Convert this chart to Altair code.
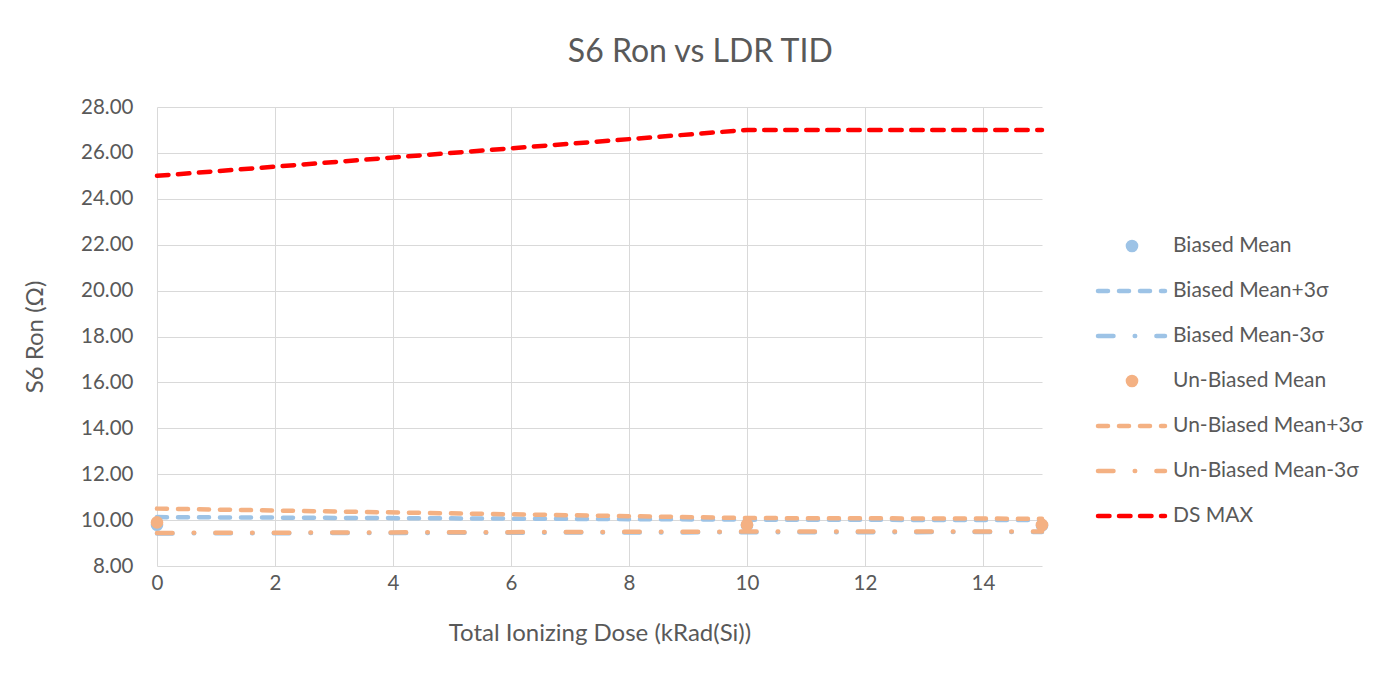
import altair as alt
import pandas as pd

# ---- data ----
tid = [0, 10, 15]
series_names = [
    "Biased Mean",
    "Biased Mean+3σ",
    "Biased Mean-3σ",
    "Un-Biased Mean",
    "Un-Biased Mean+3σ",
    "Un-Biased Mean-3σ",
    "DS MAX",
]
biased_mean = [9.80, 9.78, 9.77]
biased_p3 = [10.13, 10.02, 10.00]
biased_m3 = [9.42, 9.47, 9.48]
unbiased_mean = [9.90, 9.80, 9.79]
unbiased_p3 = [10.50, 10.09, 10.06]
unbiased_m3 = [9.44, 9.50, 9.50]
ds_max = [25.0, 27.0, 27.0]

values = [biased_mean, biased_p3, biased_m3, unbiased_mean, unbiased_p3, unbiased_m3, ds_max]

BLUE = "#9DC3E6"
ORANGE = "#F4B183"
RED = "#FF0000"
colors = [BLUE, BLUE, BLUE, ORANGE, ORANGE, ORANGE, RED]
DASH_P = [10, 11]
DASH_M = [15.5, 21.2, 0.5, 21.2]
DASH_R = [11.5, 9.5]
dashes = [[1, 0], DASH_P, DASH_M, [1, 0], DASH_P, DASH_M, DASH_R]
is_point = [True, False, False, True, False, False, False]

rows = []
for name, vals in zip(series_names, values):
    for t, v in zip(tid, vals):
        rows.append({"series": name, "tid": t, "ron": v})
df = pd.DataFrame(rows)

FONT = "Lato"
TXT = "#595959"
GRID = "#D9D9D9"

x_enc = alt.X(
    "tid:Q",
    scale=alt.Scale(domain=[0, 15], nice=False, zero=False),
    axis=alt.Axis(
        values=list(range(0, 15, 2)),
        title="Total Ionizing Dose (kRad(Si))",
        grid=True, gridColor=GRID, domain=False, ticks=False,
        labelFlush=False,
        labelPadding=7, labelFontSize=20.5, labelColor=TXT, labelFont=FONT,
        titleFontSize=24, titleColor=TXT, titleFont=FONT, titleFontWeight="normal",
        titlePadding=28,
    ),
)
y_enc = alt.Y(
    "ron:Q",
    scale=alt.Scale(domain=[8, 28], nice=False, zero=False),
    axis=alt.Axis(
        values=list(range(8, 29, 2)), format=".2f",
        title="S6 Ron (Ω)",
        grid=True, gridColor=GRID, domain=False, ticks=False,
        labelFlush=False,
        labelPadding=24, labelFontSize=20.5, labelColor=TXT, labelFont=FONT,
        titleFontSize=24, titleColor=TXT, titleFont=FONT, titleFontWeight="normal",
        titlePadding=33,
    ),
)

layers = []
for name, col, dash, pt in zip(series_names, colors, dashes, is_point):
    base = alt.Chart(df).transform_filter(alt.datum.series == name)
    if pt:
        layers.append(base.mark_circle(size=160, opacity=1, color=col).encode(x=x_enc, y=y_enc))
    else:
        layers.append(
            base.mark_line(color=col, strokeWidth=4.5, strokeDash=dash, strokeCap="round").encode(
                x=x_enc, y=y_enc
            )
        )

main = alt.layer(*layers).properties(width=885, height=459)

# ---- legend panel ----
leg_df = pd.DataFrame({"series": series_names, "row": list(range(len(series_names)))})
leg_y = alt.Y("row:Q", scale=alt.Scale(domain=[-139 / 45, (459 - 139) / 45], reverse=True, nice=False, zero=False), axis=None)

leg_layers = []
for name, col, dash, pt in zip(series_names, colors, dashes, is_point):
    b = alt.Chart(leg_df).transform_filter(alt.datum.series == name)
    if pt:
        leg_layers.append(b.mark_circle(size=160, opacity=1, color=col).encode(x=alt.value(90), y=leg_y))
    else:
        leg_layers.append(
            b.mark_rule(color=col, strokeWidth=4.5, strokeDash=dash, strokeCap="round").encode(
                x=alt.value(56), x2=alt.value(123), y=leg_y
            )
        )
leg_text = alt.Chart(leg_df).mark_text(
    align="left", baseline="middle", fontSize=21, font=FONT, color=TXT
).encode(x=alt.value(131), y=leg_y, text="series:N")
legend = alt.layer(*leg_layers, leg_text).properties(width=335, height=459)

chart = (
    alt.hconcat(main, legend, spacing=0, bounds="flush")
    .properties(
        title=alt.Title("S6 Ron vs LDR TID", fontSize=32, font=FONT, color=TXT,
                        fontWeight="normal", anchor="middle", offset=28, frame="bounds"),
        padding={"left": 15, "top": 28, "right": 5, "bottom": 5},
    )
    .configure_view(stroke=None)
)

chart.save("out.html", embed_options={"renderer": "svg", "actions": False})
